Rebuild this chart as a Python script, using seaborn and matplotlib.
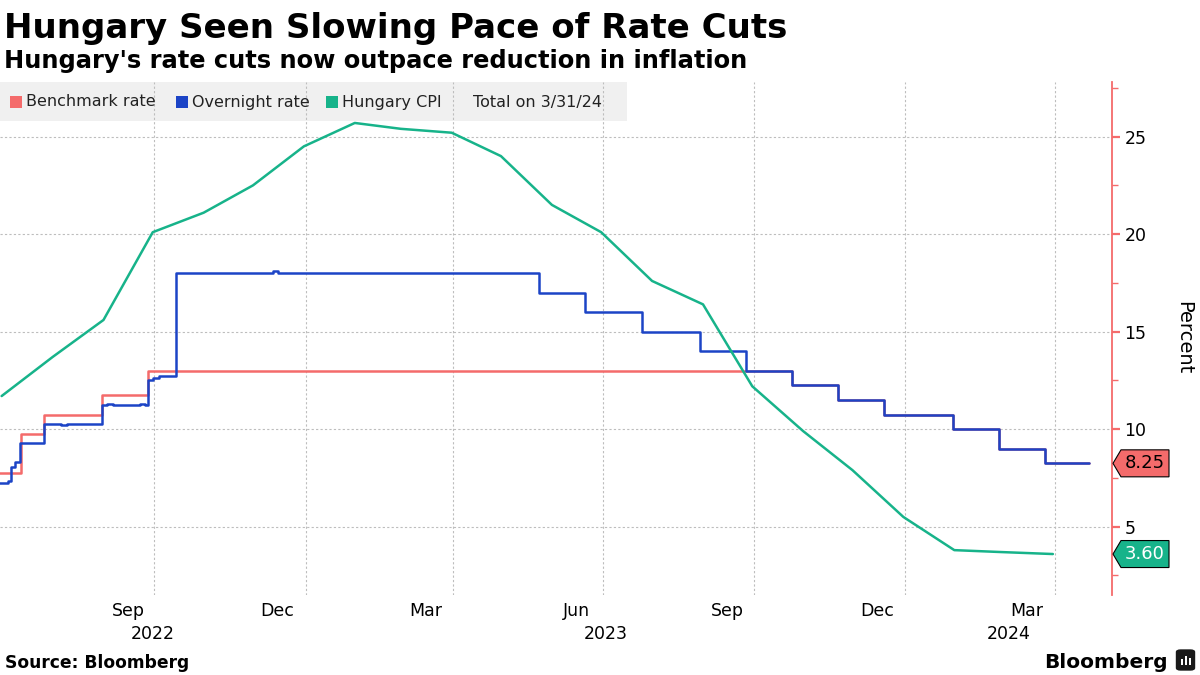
import numpy as np
import pandas as pd
import matplotlib
matplotlib.use("Agg")
import matplotlib.pyplot as plt
import matplotlib.patches as mpatches
import seaborn as sns

# ---------------- data ----------------
bench_dates = ["2022-06-28", "2022-07-12", "2022-07-26", "2022-08-30", "2022-09-27",
               "2023-10-24", "2023-11-21", "2023-12-19", "2024-01-30", "2024-02-27",
               "2024-03-26", "2024-04-22"]
bench_vals = [7.75, 9.75, 10.75, 11.75, 13.0, 12.25, 11.5, 10.75, 10.0, 9.0, 8.25, 8.25]

overnight_dates = ["2022-06-28", "2022-07-04", "2022-07-06", "2022-07-08", "2022-07-11",
                   "2022-07-26", "2022-08-05", "2022-08-09", "2022-08-30", "2022-09-02",
                   "2022-09-06", "2022-09-22", "2022-09-25", "2022-09-27", "2022-09-30",
                   "2022-10-04", "2022-10-14", "2022-12-12", "2022-12-15", "2023-05-23",
                   "2023-06-20", "2023-07-25", "2023-08-29", "2023-09-26", "2023-10-24",
                   "2023-11-21", "2023-12-19", "2024-01-30", "2024-02-27", "2024-03-26",
                   "2024-04-22"]
overnight_vals = [7.25, 7.35, 8.05, 8.3, 9.3,
                  10.25, 10.2, 10.25, 11.25, 11.3,
                  11.25, 11.3, 11.25, 12.5, 12.65,
                  12.75, 18.0, 18.1, 18.0, 17.0,
                  16.0, 15.0, 14.0, 13.0, 12.25,
                  11.5, 10.75, 10.0, 9.0, 8.25,
                  8.25]

cpi_dates = ["2022-06-30", "2022-07-31", "2022-08-31", "2022-09-30", "2022-10-31", "2022-11-30",
             "2022-12-31", "2023-01-31", "2023-02-28", "2023-03-31", "2023-04-30", "2023-05-31",
             "2023-06-30", "2023-07-31", "2023-08-31", "2023-09-30", "2023-10-31", "2023-11-30",
             "2023-12-31", "2024-01-31", "2024-02-29", "2024-03-31"]
cpi_vals = [11.7, 13.7, 15.6, 20.1, 21.1, 22.5, 24.5, 25.7, 25.4, 25.2, 24.0, 21.5,
            20.1, 17.6, 16.4, 12.2, 9.9, 7.9, 5.5, 3.8, 3.7, 3.6]

month_tick_dates = ["2022-09-15", "2022-12-15", "2023-03-15", "2023-06-15",
                    "2023-09-15", "2023-12-15", "2024-03-15"]
month_tick_labels = ["Sep", "Dec", "Mar", "Jun", "Sep", "Dec", "Mar"]
grid_dates = ["2022-10-01", "2023-01-01", "2023-04-01", "2023-07-01",
              "2023-10-01", "2024-01-01", "2024-04-01"]
year_labels = ["2022", "2023", "2024"]
y_major = [5, 10, 15, 20, 25]
y_minor = [2.5, 7.5, 12.5, 17.5, 22.5, 27.5]

series_names = ["Benchmark rate", "Overnight rate", "Hungary CPI"]
last_labels = ["8.25", "3.60"]
last_values = [8.25, 3.60]

title = "Hungary Seen Slowing Pace of Rate Cuts"
subtitle = "Hungary's rate cuts now outpace reduction in inflation"

# ---------------- style ----------------
RED = "#F46B6B"
BLUE = "#1C44C6"
GREEN = "#17B38A"
GRID = "#BDBDBD"

sns.set_theme(style="white")
plt.rcParams["font.family"] = ["DejaVu Sans"]

W, H = 1200, 675
fig = plt.figure(figsize=(12, 6.75), dpi=100)
fig.patch.set_facecolor("white")
AX_L, AX_R, AX_T, AX_B = 0, 1112, 82, 595
ax = fig.add_axes([AX_L / W, 1 - AX_B / H, (AX_R - AX_L) / W, (AX_B - AX_T) / H])

x0, x1 = pd.Timestamp("2022-06-29"), pd.Timestamp("2024-05-06")
y0, y1 = 1.5, 27.8

sns.lineplot(x=pd.to_datetime(bench_dates), y=bench_vals, ax=ax, color=RED,
             linewidth=1.8, drawstyle="steps-post", estimator=None, zorder=2)
sns.lineplot(x=pd.to_datetime(overnight_dates), y=overnight_vals, ax=ax, color=BLUE,
             linewidth=1.8, drawstyle="steps-post", estimator=None, zorder=3)
sns.lineplot(x=pd.to_datetime(cpi_dates), y=cpi_vals, ax=ax, color=GREEN,
             linewidth=1.8, estimator=None, zorder=4)

ax.set_xlim(x0, x1)
ax.set_ylim(y0, y1)
ax.set_xlabel("")
ax.set_ylabel("")

# spines
for s in ["top", "left", "bottom"]:
    ax.spines[s].set_visible(False)
ax.spines["right"].set_visible(True)
ax.spines["right"].set_color(RED)
ax.spines["right"].set_linewidth(1.3)

# y axis on the right
ax.yaxis.tick_right()
ax.set_yticks(y_major)
ax.set_yticks(y_minor, minor=True)
ax.set_yticklabels([str(v) for v in y_major])
ax.tick_params(axis="y", which="major", direction="out", length=6, width=1.6,
               color=RED, labelsize=12.5, pad=3, right=True, left=False, labelcolor="black")
ax.tick_params(axis="y", which="minor", direction="out", length=4, width=1.0,
               color=RED, right=True, left=False)

# x axis
ax.set_xticks(pd.to_datetime(month_tick_dates))
ax.set_xticklabels(month_tick_labels)
ax.set_xticks(pd.to_datetime(grid_dates), minor=True)
ax.tick_params(axis="x", which="major", length=0, labelsize=12.5, pad=5, labelcolor="black")
ax.tick_params(axis="x", which="minor", length=0)

ax.set_axisbelow(True)
ax.xaxis.grid(True, which="minor", linestyle=(0, (2, 2)), color=GRID, linewidth=0.8)
ax.xaxis.grid(False, which="major")
ax.yaxis.grid(True, which="major", linestyle=(0, (2, 2)), color=GRID, linewidth=0.8)

# year labels centred under each year's visible span
xt = ax.get_xaxis_transform()
for yl in year_labels:
    a = max(pd.Timestamp(f"{yl}-01-01"), x0)
    b = min(pd.Timestamp(f"{int(yl) + 1}-01-01"), x1)
    mid = a + (b - a) / 2
    ax.text(mid, -(634 - AX_B) / (AX_B - AX_T), yl, transform=xt, ha="center",
            va="center", fontsize=12.5, color="black")

# legend band (behind grid)
ax.add_patch(mpatches.Rectangle((0, (AX_B - 121) / (AX_B - AX_T)), 627 / (AX_R - AX_L),
                                (121 - AX_T) / (AX_B - AX_T), transform=ax.transAxes,
                                facecolor="#F0F0F0", edgecolor="none", zorder=0.2))

def fx(px):
    return px / W

def fy(py):
    return 1 - py / H

leg_items = [(RED, 10, series_names[0]), (BLUE, 176, series_names[1]), (GREEN, 326, series_names[2])]
for col, px, name in leg_items:
    fig.patches.append(mpatches.Rectangle((fx(px), fy(108)), 12 / W, 12 / H,
                                          transform=fig.transFigure, facecolor=col,
                                          edgecolor="none"))
    fig.text(fx(px + 16), fy(102), name, ha="left", va="center", fontsize=11.5, color="#222222")
fig.text(fx(473), fy(102), "Total on 3/31/24", ha="left", va="center", fontsize=11.5, color="#222222")

# last-value tags on the right axis
inv = fig.transFigure.inverted()
tag_cols = [(RED, "black"), (GREEN, "white")]
for (fc, tc), lab, val in zip(tag_cols, last_labels, last_values):
    disp = ax.transData.transform((ax.get_xlim()[1], val))
    yc = inv.transform(disp)[1]
    hh = 13.5 / H
    poly = mpatches.Polygon([(fx(1113), yc), (fx(1121), yc + hh), (fx(1169), yc + hh),
                             (fx(1169), yc - hh), (fx(1121), yc - hh)], closed=True,
                            transform=fig.transFigure, facecolor=fc, edgecolor="black",
                            linewidth=0.8)
    fig.patches.append(poly)
    fig.text(fx(1145), yc, lab, ha="center", va="center", fontsize=13, color=tc)

fig.text(fx(1184), fy(338), "Percent", rotation=270, ha="center", va="center",
         fontsize=14, color="black")

# titles and footer
fig.text(fx(4), fy(38), title, ha="left", va="baseline", fontsize=24.5,
         fontweight="bold", color="black")
fig.text(fx(4), fy(68), subtitle, ha="left", va="baseline", fontsize=17.4,
         fontweight="bold", color="black")
fig.text(fx(5), fy(668), "Source: Bloomberg", ha="left", va="baseline", fontsize=12.3,
         fontweight="bold", color="black")
fig.text(fx(1168), fy(668), "Bloomberg", ha="right", va="baseline", fontsize=14.5,
         fontweight="bold", color="black")
fig.patches.append(mpatches.FancyBboxPatch((fx(1177), fy(670)), 17 / W, 20 / H,
                                           boxstyle="round,pad=0.001,rounding_size=0.004",
                                           transform=fig.transFigure, facecolor="#1a1a1a",
                                           edgecolor="none"))
for bx, bh in [(1181, 6), (1185, 9), (1189, 7)]:
    fig.patches.append(mpatches.Rectangle((fx(bx), fy(665)), 2.2 / W, bh / H,
                                          transform=fig.transFigure, facecolor="white",
                                          edgecolor="none"))

fig.savefig("out.png", dpi=100, facecolor="white")
